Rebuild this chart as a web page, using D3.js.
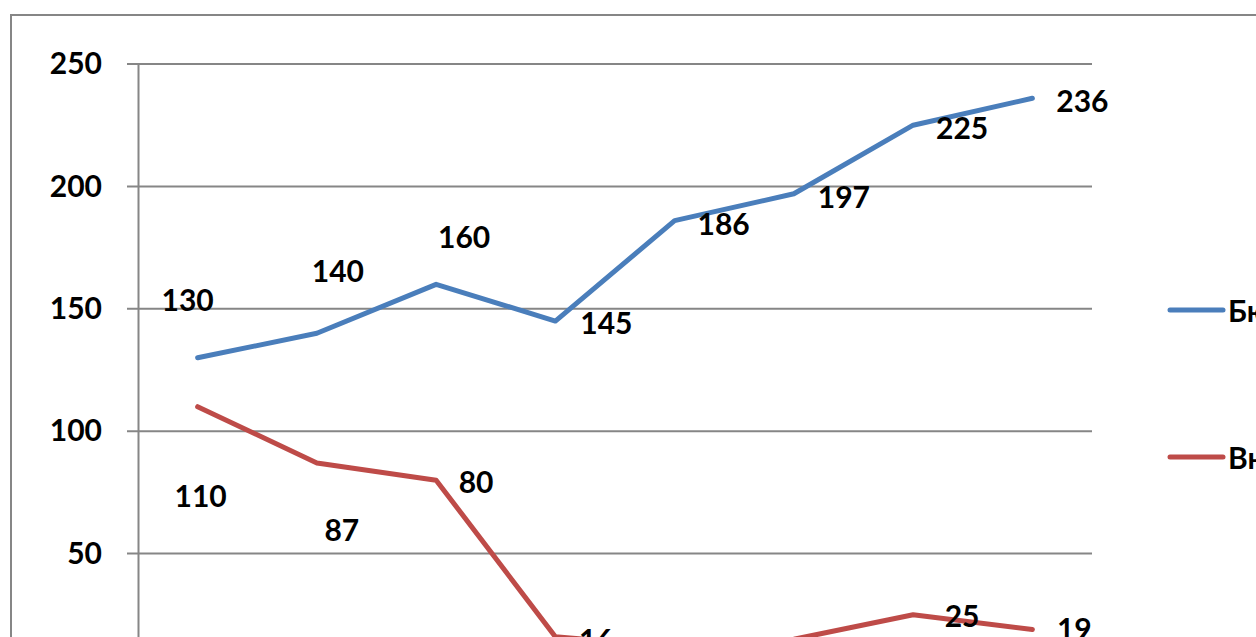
<!DOCTYPE html>
<html>
<head>
<meta charset="utf-8">
<script src="https://cdn.jsdelivr.net/npm/d3@7"></script>
<style>
  body { margin: 0; background: #fff; overflow: hidden; }
  text { font-family: Lato, "Open Sans", sans-serif; font-weight: bold; fill: #000; }
</style>
</head>
<body>
<script>
// categories (x axis is below the visible area)
var categories = ['1', '2', '3', '4', '5', '6', '7', '8']
// series
var seriesNames = ['Бюджет', 'Внебюджет']
var blueValues = [130, 140, 160, 145, 186, 197, 225, 236]
var redValues = [110, 87, 80, 16, 12, 15, 25, 19]
var yTicks = [50, 100, 150, 200, 250]

// where each data label sits relative to its point (dx, dy)
var blueLabelOffsets = [[-10, -59], [21, -63], [28, -48], [51, 1], [49, 2], [50, 2], [49, 2], [50, 2]]
var redLabelOffsets = [[3, 88], [25, 66], [40, 1], [41, 2], [45, 30], [45, 30], [49, 0], [42, -1]]

var width = 1256
var height = 637
var plotLeft = 138
var plotRight = 1092
var plotTop = 64
var plotBottom = 676
var colors = ['#4a7ebb', '#be4b48']

var svg = d3.select('body').append('svg')
  .attr('width', width)
  .attr('height', height)

// outer chart border (chart continues off-screen)
svg.append('rect')
  .attr('x', 11).attr('y', 15)
  .attr('width', 1400).attr('height', 800)
  .attr('fill', 'none')
  .attr('stroke', '#868686')
  .attr('stroke-width', 2)

var xScale = d3.scaleBand()
  .domain(categories)
  .range([plotLeft, plotRight])

var yScale = d3.scaleLinear()
  .domain([0, 250])
  .range([plotBottom, plotTop])

// gridlines
svg.append('g')
  .selectAll('line')
  .data(yTicks)
  .enter()
  .append('line')
  .attr('x1', plotLeft - 11)
  .attr('x2', plotRight)
  .attr('y1', function (d) { return yScale(d) })
  .attr('y2', function (d) { return yScale(d) })
  .attr('stroke', '#868686')
  .attr('stroke-width', 2)

// y axis
var yAxis = d3.axisLeft(yScale).tickValues(yTicks).tickSize(0).tickPadding(36)
var yg = svg.append('g')
  .attr('transform', 'translate(' + plotLeft + ',0)')
  .call(yAxis)
yg.select('.domain').attr('stroke', '#868686').attr('stroke-width', 2)
yg.selectAll('text')
  .style('font-size', '30px')
  .style('font-family', 'Lato, sans-serif')
  .style('font-weight', 'bold')
  .attr('fill', '#000')

var line = d3.line()
  .x(function (d, i) { return xScale(categories[i]) + xScale.bandwidth() / 2 })
  .y(function (d) { return yScale(d) })

var series = [blueValues, redValues]
var offsets = [blueLabelOffsets, redLabelOffsets]

series.forEach(function (vals, s) {
  svg.append('path')
    .datum(vals)
    .attr('d', line)
    .attr('fill', 'none')
    .attr('stroke', colors[s])
    .attr('stroke-width', 5)
    .attr('stroke-linejoin', 'round')
    .attr('stroke-linecap', 'round')

  svg.append('g')
    .selectAll('text')
    .data(vals)
    .enter()
    .append('text')
    .attr('x', function (d, i) { return xScale(categories[i]) + xScale.bandwidth() / 2 + offsets[s][i][0] })
    .attr('y', function (d, i) { return yScale(d) + offsets[s][i][1] })
    .attr('text-anchor', 'middle')
    .attr('dominant-baseline', 'central')
    .style('font-size', '30px')
    .text(function (d) { return d })
})

// legend
var legend = svg.append('g')
  .selectAll('g')
  .data(seriesNames)
  .enter()
  .append('g')
  .attr('transform', function (d, i) { return 'translate(1170,' + (310 + i * 147) + ')' })

legend.append('line')
  .attr('x1', 0).attr('x2', 53)
  .attr('stroke', function (d, i) { return colors[i] })
  .attr('stroke-width', 5)
  .attr('stroke-linecap', 'round')

legend.append('text')
  .attr('x', 58)
  .attr('dominant-baseline', 'central')
  .style('font-size', '30px')
  .text(function (d) { return d })
</script>
</body>
</html>
